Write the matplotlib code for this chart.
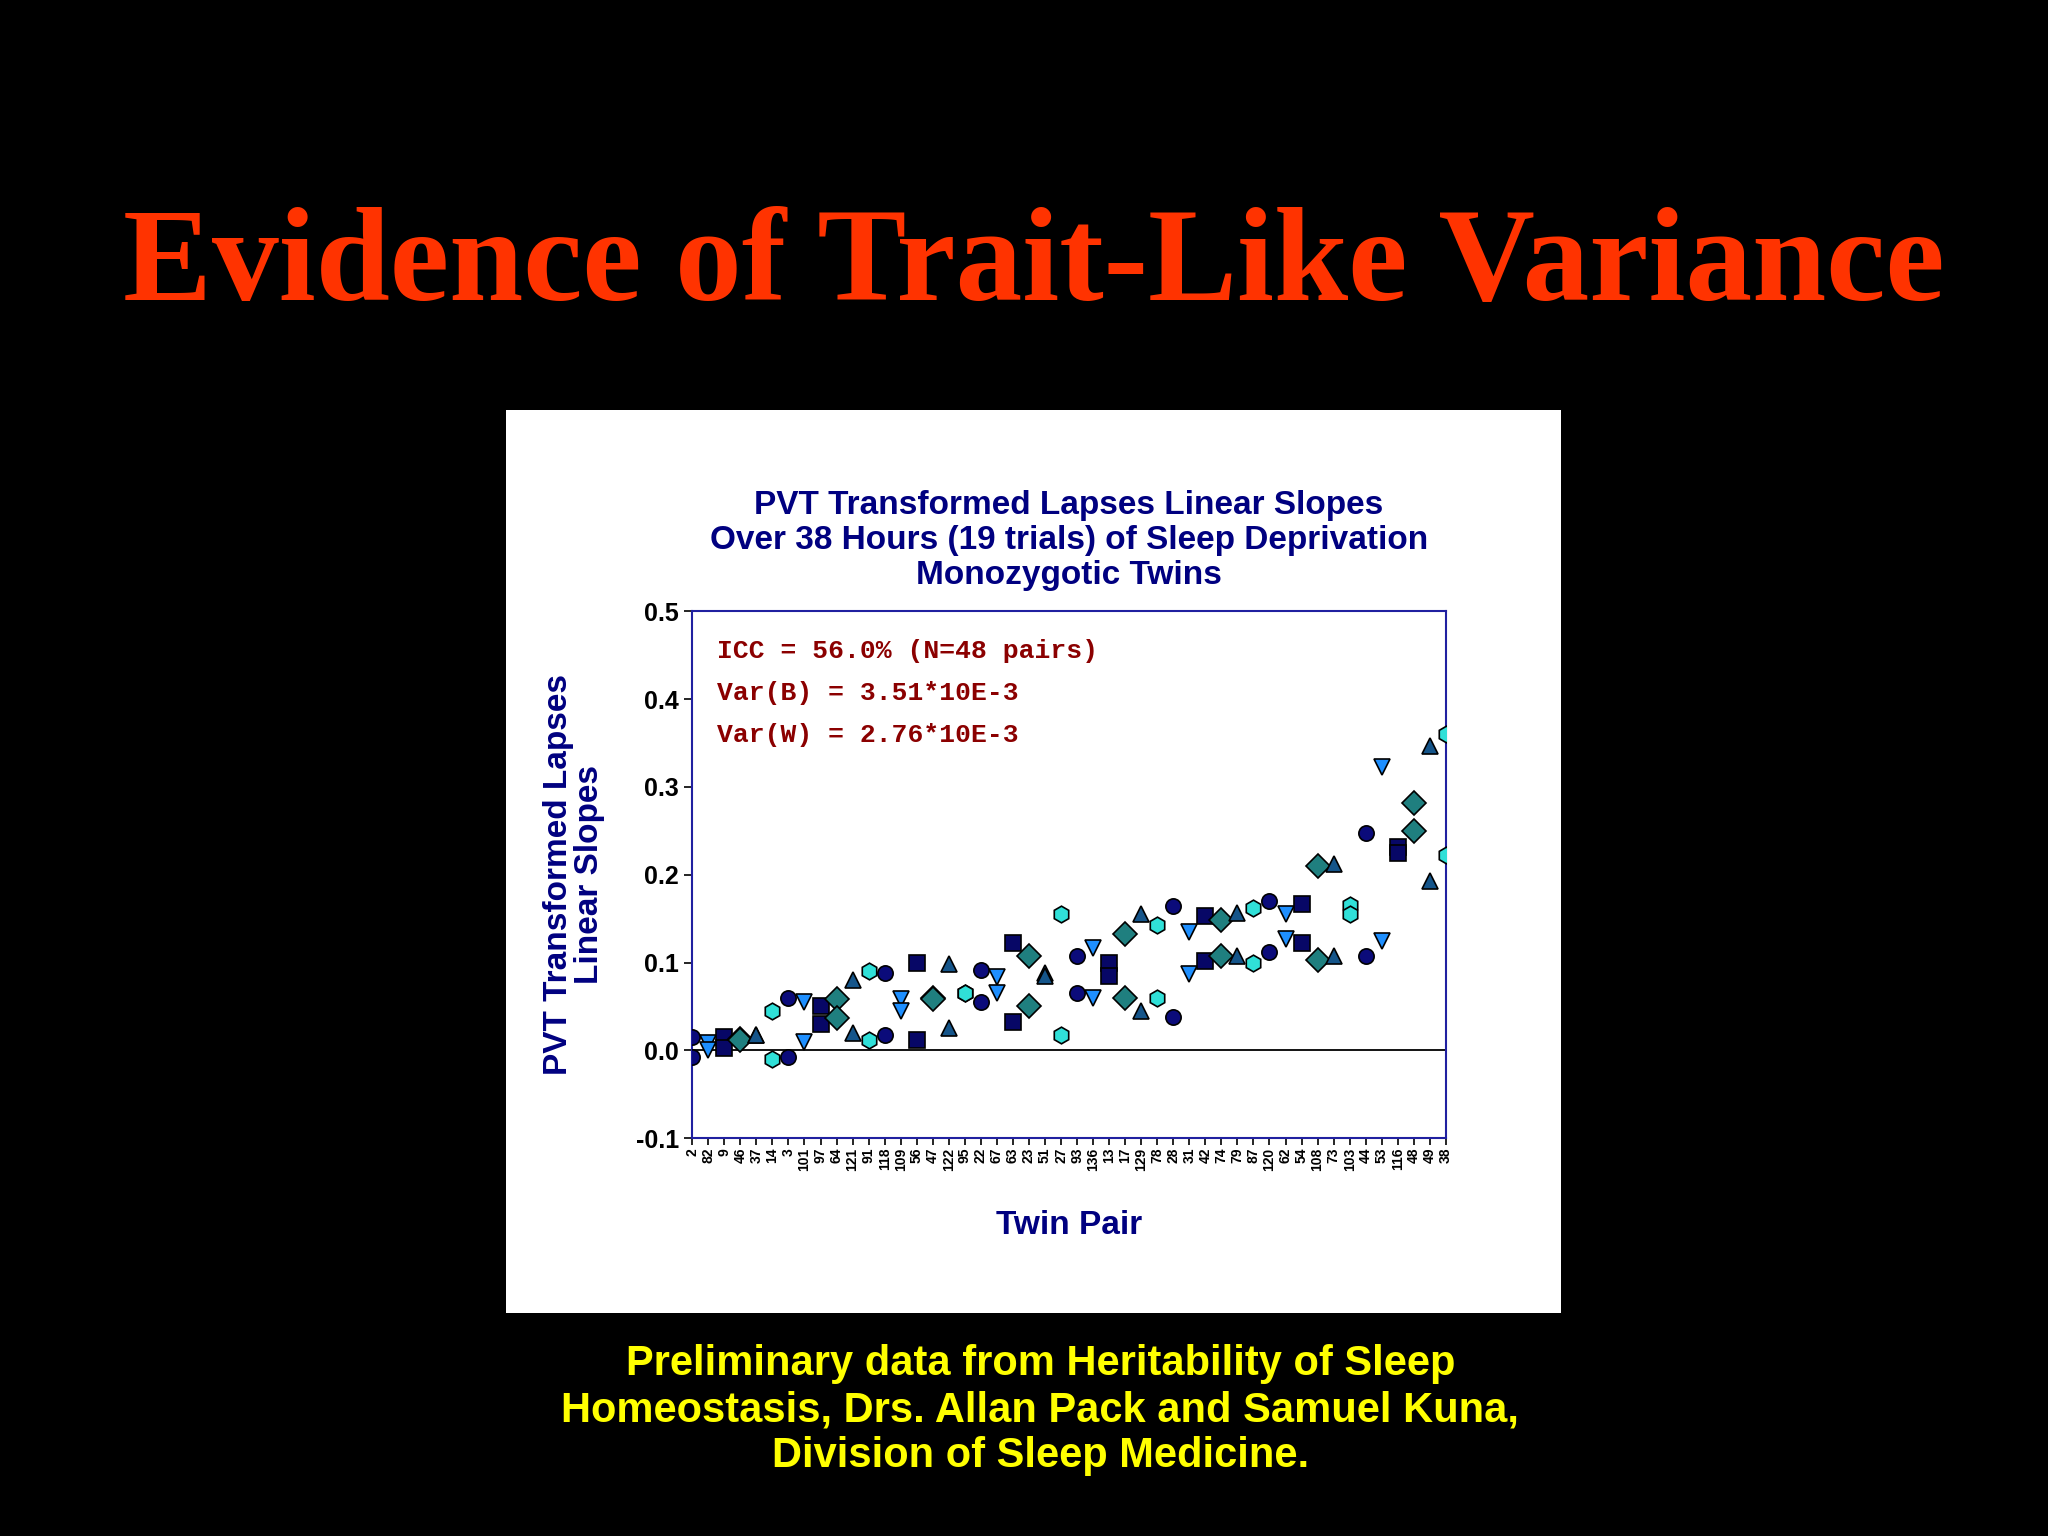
import matplotlib
matplotlib.use("Agg")
import matplotlib.pyplot as plt

pairs = ["2","82","9","46","37","14","3","101","97","64","121","91","118","109","56","47",
         "122","95","22","67","63","23","51","27","93","136","13","17","129","78","28","31",
         "42","74","79","87","120","62","54","108","73","103","44","53","116","48","49","38"]
twin_a = [0.015,0.008,0.015,0.013,0.018,0.045,0.060,0.055,0.050,0.058,0.080,0.090,0.088,0.058,0.100,0.060,
          0.098,0.065,0.092,0.083,0.122,0.107,0.088,0.155,0.108,0.117,0.100,0.132,0.155,0.143,0.164,0.135,
          0.153,0.148,0.157,0.162,0.170,0.155,0.167,0.210,0.212,0.165,0.248,0.323,0.232,0.282,0.347,0.360]
twin_b = [-0.008,0.000,0.003,0.012,0.017,-0.010,-0.008,0.010,0.030,0.037,0.020,0.012,0.018,0.045,0.012,0.058,
          0.025,0.065,0.055,0.065,0.032,0.050,0.085,0.017,0.065,0.060,0.085,0.060,0.045,0.060,0.038,0.087,
          0.102,0.107,0.107,0.100,0.112,0.127,0.122,0.103,0.108,0.155,0.108,0.125,0.225,0.250,0.193,0.222]

styles = [("o", "#0b0b7a"), ("v", "#1e8fff"), ("s", "#070766"),
          ("D", "#1f7f7f"), ("^", "#15558a"), ("h", "#30e0d8")]

fig = plt.figure(figsize=(20.48, 15.36), dpi=100, facecolor="black")
fig.text(0.505, 0.826, "Evidence of Trait-Like Variance", color="#ff3300",
         fontsize=96, fontweight="bold", family="Liberation Serif", ha="center", va="center")

panel = fig.add_axes([0.247, 0.145, 0.515, 0.588])
panel.set_facecolor("white"); panel.set_xticks([]); panel.set_yticks([])
for s in panel.spines.values(): s.set_visible(False)

ax = fig.add_axes([0.338, 0.259, 0.368, 0.343])
navy = "#000080"
for i in range(len(pairs)):
    m, c = styles[i % 6]
    ms = 12 if m in "vD^h" else 11
    ax.plot([i, i], [twin_a[i], twin_b[i]], linestyle="none", marker=m, markersize=ms,
            markerfacecolor=c, markeredgecolor="black", markeredgewidth=1.2, zorder=3)
ax.axhline(0, color="black", lw=1.3, zorder=2)
ax.set_xlim(0, len(pairs) - 1)
ax.set_ylim(-0.1, 0.5)
ax.set_yticks([-0.1, 0.0, 0.1, 0.2, 0.3, 0.4, 0.5])
ax.set_yticklabels(["-0.1", "0.0", "0.1", "0.2", "0.3", "0.4", "0.5"],
                   fontsize=18, fontweight="bold", color=navy, family="Liberation Sans")
ax.set_xticks(range(len(pairs)))
ax.set_xticklabels(pairs, rotation=90, fontsize=10, fontweight="bold", color=navy,
                   family="Liberation Sans")
ax.tick_params(axis="both", colors="black", length=6, width=1.2)
ax.tick_params(axis="x", length=5, pad=2)
for sp in ["left", "bottom", "top", "right"]:
    ax.spines[sp].set_color("#2020a0"); ax.spines[sp].set_linewidth(1.5)
ax.set_title("PVT Transformed Lapses Linear Slopes\nOver 38 Hours (19 trials) of Sleep Deprivation\nMonozygotic Twins",
             fontsize=24, fontweight="bold", color=navy, family="Liberation Sans", pad=20, linespacing=1.15)
ax.set_ylabel("PVT Transformed Lapses\nLinear Slopes", fontsize=24, fontweight="bold", color=navy,
              family="Liberation Sans", labelpad=22, linespacing=1.0)
ax.set_xlabel("Twin Pair", fontsize=24, fontweight="bold", color=navy, family="Liberation Sans", labelpad=28)
for k, t in enumerate(["ICC = 56.0% (N=48 pairs)", "Var(B) = 3.51*10E-3", "Var(W) = 2.76*10E-3"]):
    ax.text(0.033, 0.925 - k * 0.08, t, transform=ax.transAxes, fontsize=19, fontweight="bold",
            color="#8b0000", family="Liberation Mono", va="center")

fig.text(0.508, 0.082, "Preliminary data from Heritability of Sleep\nHomeostasis, Drs. Allan Pack and Samuel Kuna,\nDivision of Sleep Medicine.",
         color="#ffff00", fontsize=30, fontweight="bold", family="Liberation Sans",
         ha="center", va="center", linespacing=1.2)
fig.savefig("out.png", dpi=100, facecolor="black")
